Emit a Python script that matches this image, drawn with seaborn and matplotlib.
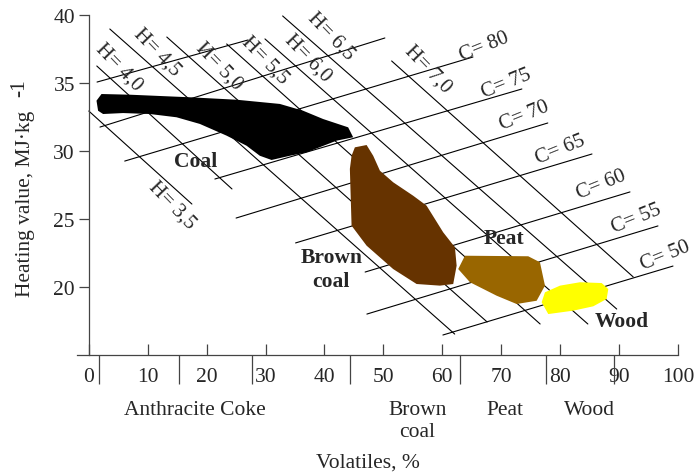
"""Heating value vs volatiles nomogram with iso-C and iso-H lines."""

import matplotlib

matplotlib.use("Agg")
import matplotlib.pyplot as plt
import pandas as pd
import seaborn as sns

# iso-carbon lines (volatiles %, heating value) start -> end
C_VALUES = [90, 85, 80, 75, 70, 65, 60, 55, 50]
C_X0 = [1.4, 1.9, 6.1, 21.4, 25.0, 35.1, 46.9, 47.2, 60.1]
C_Y0 = [35.07, 31.76, 29.26, 27.94, 25.07, 23.24, 21.10, 18.01, 16.47]
C_X1 = [27.0, 50.25, 65.2, 73.5, 77.9, 85.4, 91.85, 96.6, 99.15]
C_Y1 = [38.16, 38.31, 36.91, 34.56, 32.06, 29.78, 26.99, 24.49, 21.54]
C_LABELS = ["", "", "C= 80", "C= 75", "C= 70", "C= 65", "C= 60", "C= 55", "C= 50"]
C_LABEL_X = [0, 0, 67.1, 70.8, 73.9, 80.1, 86.9, 93.0, 97.8]
C_LABEL_Y = [0, 0, 37.72, 35.0, 32.65, 30.15, 27.57, 25.07, 22.35]

# iso-hydrogen lines
H_LABELS = ["H= 3,5", "H= 4,0", "H= 4,5", "И= 5,0", "H= 5,5", "H= 6,0", "H= 6,5", "H= 7,0"]
H_X0 = [0.0, 1.36, 3.57, 13.24, 23.4, 29.9, 32.9, 51.4]
H_Y0 = [32.94, 36.25, 38.97, 38.38, 37.87, 38.24, 39.93, 36.62]
H_X1 = [17.5, 24.3, 62.1, 67.6, 76.6, 84.7, 89.6, 92.4]
H_Y1 = [26.10, 27.21, 16.54, 17.43, 17.28, 17.28, 18.38, 20.74]
H_LABEL_X = [14.1, 5.1, 11.5, 22.1, 29.9, 37.2, 41.1, 57.6]
H_LABEL_Y = [26.1, 36.25, 37.35, 36.3, 36.76, 36.9, 38.5, 36.1]

# fuel regions
COAL_X = [1.31, 2.16, 6.96, 17.15, 25.08, 32.43, 36.38, 39.78, 44.02, 44.87, 42.05,
          36.96, 34.13, 31.02, 29.03, 26.77, 23.38, 18.85, 14.89, 10.36, 5.82, 2.43, 1.58]
COAL_Y = [33.70, 34.19, 34.14, 33.95, 33.77, 33.46, 32.96, 32.35, 31.74, 31.01, 30.76,
          29.90, 29.65, 29.34, 29.65, 30.39, 31.13, 31.99, 32.48, 32.72, 32.79, 32.72, 32.96]
BROWN_X = [45.16, 47.15, 48.27, 49.41, 51.66, 55.06, 57.33, 60.15, 62.14, 62.43, 61.85,
           59.59, 55.64, 51.66, 47.15, 44.60, 44.31, 44.60]
BROWN_Y = [30.27, 30.44, 29.65, 28.55, 27.70, 26.71, 25.98, 24.02, 22.92, 21.57, 20.22,
           20.10, 20.22, 21.32, 23.04, 24.51, 28.68, 29.65]
PEAT_X = [63.84, 74.58, 76.57, 77.42, 76.01, 72.61, 69.22, 64.69, 62.70]
PEAT_Y = [22.30, 22.26, 21.82, 20.10, 18.99, 18.75, 19.36, 20.35, 21.32]
WOOD_X = [77.42, 79.97, 83.36, 87.05, 88.17, 87.89, 85.62, 82.22, 77.98, 76.86]
WOOD_Y = [19.61, 20.10, 20.35, 20.29, 19.85, 19.12, 18.58, 18.26, 18.01, 18.88]

REGION_NAMES = ["Coal", "Brown", "coal", "Peat", "Wood"]
REGION_X = [18.2, 41.2, 41.1, 70.5, 90.5]
REGION_Y = [29.26, 22.2, 20.44, 23.6, 17.5]

# volatiles axis
X_TICKS = list(range(0, 101, 10))
GROUP_BOUNDS = [1.7, 15.3, 27.7, 44.3, 63.0, 77.6, 89.1]
GROUP_NAMES = ["Anthracite Coke", "Brown", "coal", "Peat", "Wood"]
GROUP_X = [18.0, 55.8, 55.8, 70.6, 85.0]
GROUP_ROW = [-0.159, -0.159, -0.226, -0.159, -0.159]


def grid_frame(x0, y0, x1, y1, tag):
    rows = []
    for i, (a, b, c, d) in enumerate(zip(x0, y0, x1, y1)):
        rows.append({"line": f"{tag}{i}", "x": a, "y": b})
        rows.append({"line": f"{tag}{i}", "x": c, "y": d})
    return pd.DataFrame(rows)


sns.set_style("ticks")
plt.rcParams["font.family"] = ["Liberation Serif", "DejaVu Serif"]

fig = plt.figure(figsize=(6.95, 4.77), dpi=100)
ax = fig.add_axes([77 / 695, 121 / 477, 601 / 695, 340 / 477])

lines_df = pd.concat([
    grid_frame(C_X0, C_Y0, C_X1, C_Y1, "c"),
    grid_frame(H_X0, H_Y0, H_X1, H_Y1, "h"),
])
sns.lineplot(data=lines_df, x="x", y="y", units="line", estimator=None,
             color="black", lw=0.8, ax=ax, legend=False, zorder=2)

ax.fill(COAL_X, COAL_Y, color="black", lw=0, zorder=3)
ax.fill(BROWN_X, BROWN_Y, color="#663300", lw=0, zorder=3)
ax.fill(PEAT_X, PEAT_Y, color="#996600", lw=0, zorder=3)
ax.fill(WOOD_X, WOOD_Y, color="#FFFF00", lw=0, zorder=3)

for name, x, y in zip(REGION_NAMES, REGION_X, REGION_Y):
    ax.text(x, y, name, fontsize=15.5, fontweight="bold", ha="center", va="center", zorder=4)

for lab, x, y in zip(C_LABELS, C_LABEL_X, C_LABEL_Y):
    if lab:
        ax.text(x, y, lab, fontsize=15, rotation=22, ha="center", va="center",
                rotation_mode="anchor")

for lab, x, y in zip(H_LABELS, H_LABEL_X, H_LABEL_Y):
    ax.text(x, y, lab, fontsize=15, rotation=-46, ha="center", va="center",
            rotation_mode="anchor")

ax.set_xlim(-2, 100)
ax.set_ylim(15, 40)
ax.spines["left"].set_position(("data", 0))
ax.spines["top"].set_visible(False)
ax.spines["right"].set_visible(False)
for side in ("left", "bottom"):
    ax.spines[side].set_linewidth(0.9)
    ax.spines[side].set_color("#444444")

ax.set_xticks(X_TICKS)
ax.set_xticklabels([str(v) for v in X_TICKS])
ax.set_xticks(GROUP_BOUNDS, minor=True)
ax.tick_params(axis="x", which="major", direction="in", length=8, width=0.9,
               pad=9, labelsize=15.5, color="#444444")
ax.tick_params(axis="x", which="minor", direction="out", length=21, width=0.9,
               color="#444444")
ax.set_yticks([20, 25, 30, 35, 40])
ax.tick_params(axis="y", direction="out", length=7, width=0.9, pad=3,
               labelsize=15.5, color="#444444")
ax.set_xlabel("")
ax.set_ylabel("")

xform = ax.get_xaxis_transform()
for name, x, y in zip(GROUP_NAMES, GROUP_X, GROUP_ROW):
    ax.text(x, y, name, fontsize=15.5, ha="center", va="center", transform=xform)
ax.text(47.4, -0.315, "Volatiles, %", fontsize=15.5, ha="center", va="center",
        transform=xform)

fig.text(26 / 695, 1 - 204 / 477, "Heating value, MJ·kg", fontsize=15.5,
         rotation=90, ha="center", va="center")
fig.text(20 / 695, 1 - 88 / 477, "-1", fontsize=15.5, rotation=90,
         ha="center", va="center")

fig.savefig("out.png", dpi=100)
